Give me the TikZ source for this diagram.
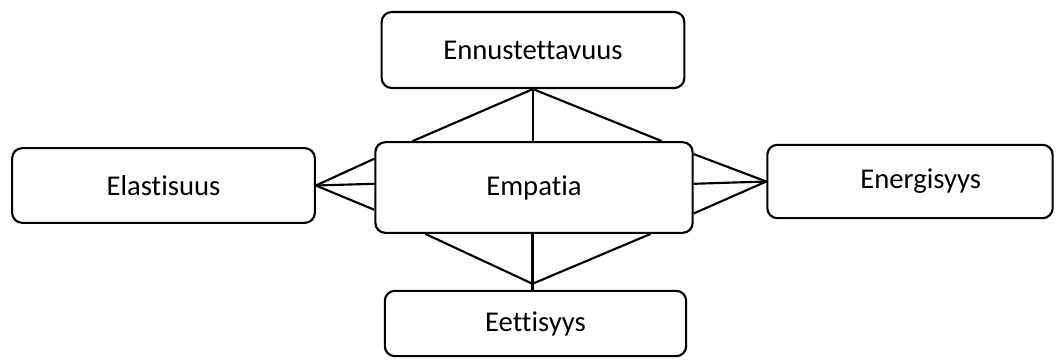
\documentclass[tikz,border=0pt]{standalone}
\usepackage{fontspec}
\setmainfont{Carlito}[RawFeature={-liga}]
\usetikzlibrary{calc}

\tikzset{
    box/.style={draw, line width=1.6pt, rounded corners=7.5pt, inner sep=0pt,
        font=\fontsize{21.5}{26}\selectfont},
    link/.style={line width=1.6pt}
}

\begin{document}
\begin{tikzpicture}[x=0.75pt, y=-0.75pt]
        \useasboundingbox (0,0) rectangle (1058,362);
        \node[box, minimum width=227pt, minimum height=57pt] (ennustettavuus) at (533,50) {Ennustettavuus};
        \node[box, minimum width=227pt, minimum height=56pt] (elastisuus) at (163.5,185.5) {Elastisuus};
        \node[box, minimum width=238pt, minimum height=68pt] (empatia) at (534,187.5) {Empatia};
        \node[box, minimum width=214pt, minimum height=55pt] (energisyys) at (910,181.5) {\hspace{16pt}Energisyys};
        \node[box, minimum width=226pt, minimum height=49pt] (eettisyys) at (535.5,323.5) {Eettisyys};
        \coordinate (alakarki) at ($(eettisyys.north)+(-3,-6)$);
        % ylhaalta keskelle
        \foreach \t in {0.12,0.9}
            \draw[link] (ennustettavuus.south) -- ($(empatia.north west)!\t!(empatia.north east)$);
        \draw[link] (ennustettavuus.south) -- (empatia.north -| ennustettavuus.south);
        % vasemmalta keskelle
        \foreach \t in {0.19,0.46,0.74}
            \draw[link] (elastisuus.east) -- ($(empatia.north west)!\t!(empatia.south west)$);
        % oikealta keskelle
        \foreach \t in {0.14,0.46,0.78}
            \draw[link] (energisyys.west) -- ($(empatia.north east)!\t!(empatia.south east)$);
        % alhaalta keskelle
        \foreach \t in {0.16,0.865}
            \draw[link] (alakarki) -- ($(empatia.south west)!\t!(empatia.south east)$);
        \draw[link] (empatia.south -| alakarki) -- (eettisyys.north -| alakarki);
    \end{tikzpicture}
\end{document}
